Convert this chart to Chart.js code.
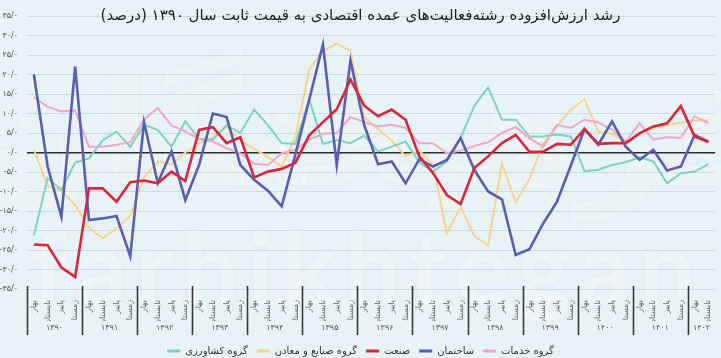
<!DOCTYPE html>
<html>
<head>
<meta charset="utf-8">
<script src="https://cdn.jsdelivr.net/npm/chart.js@4.4.1/dist/chart.umd.min.js"></script>
<style>
html,body{margin:0;padding:0;background:#e8f3f8;}
#wrap{position:relative;width:721px;height:358px;}
canvas{display:block;}
</style>
</head>
<body>
<div id="wrap"><canvas id="c" width="721" height="358"></canvas></div>
<script>
// ---- data ----
const seasonNames = ['بهار', 'تابستان', 'پاییز', 'زمستان'];
const years = ['۱۳۹۰','۱۳۹۱','۱۳۹۲','۱۳۹۳','۱۳۹۴','۱۳۹۵','۱۳۹۶','۱۳۹۷','۱۳۹۸','۱۳۹۹','۱۴۰۰','۱۴۰۱','۱۴۰۲'];
const quartersPerYear = [4,4,4,4,4,4,4,4,4,4,4,4,2];

const seriesNames = ['گروه کشاورزی', 'گروه صنایع و معادن', 'صنعت', 'ساختمان', 'گروه خدمات'];

const agriculture = [-21.2,-6.6,-9.6,-2.6,-1.5,3.1,5.4,1.4,7.1,5.8,1.5,8.0,3.5,3.3,7.0,5.0,11.0,7.0,2.4,2.2,13.6,2.2,3.2,2.4,4.3,0.3,1.5,2.8,-2.5,-4.9,-2.3,3.7,12.0,16.7,8.4,8.4,4.1,4.1,4.6,4.1,-4.8,-4.4,-3.2,-2.5,-1.2,-2.3,-7.9,-5.3,-4.9,-3.0];
const industryMining = [0.7,-8.6,-9.8,-13.5,-19.3,-22.0,-19.5,-16.2,-6.4,-2.3,-3.0,0.0,2.2,3.9,6.7,3.0,1.0,-1.2,-3.6,4.0,21.3,26.0,27.9,26.0,9.0,6.0,3.0,-1.0,0.5,-3.2,-20.8,-13.9,-21.4,-23.8,-2.8,-12.8,-6.8,2.2,6.7,11.0,13.7,5.3,4.8,2.6,5.0,6.2,7.0,7.7,8.2,8.2];
const industry = [-23.6,-23.8,-29.5,-31.9,-9.2,-9.2,-12.6,-7.6,-7.2,-7.9,-4.9,-7.3,5.8,6.5,2.4,3.9,-6.4,-4.9,-4.2,-2.6,4.4,7.8,11.1,18.7,12.0,9.3,11.0,8.4,-1.0,-5.3,-10.9,-13.2,-4.0,-1.0,2.4,4.5,0.2,0.2,2.2,2.0,6.0,2.2,2.4,2.4,4.9,6.7,7.5,11.9,4.1,2.7];
const construction = [20.0,-3.6,-16.5,22.0,-17.3,-16.9,-16.3,-26.6,7.8,-7.8,0.3,-12.2,-3.2,10.0,9.1,-3.2,-7.0,-9.8,-13.8,-0.5,13.5,27.7,-3.2,23.6,7.0,-3.0,-2.3,-7.9,-1.7,-3.6,-1.9,3.7,-4.5,-10.0,-12.0,-26.3,-24.8,-18.2,-12.6,-3.4,6.0,2.0,8.0,1.5,-1.9,0.7,-4.6,-3.6,4.5,2.8];
const services = [14.2,11.7,10.5,10.8,1.5,1.5,2.0,2.6,8.4,11.4,6.9,5.4,3.4,2.8,1.1,-0.2,-2.9,-3.2,-0.2,0.7,3.3,4.8,5.0,9.1,7.8,6.7,7.1,6.3,2.4,2.4,-0.2,0.5,1.7,2.6,5.0,6.5,3.7,1.5,7.1,6.3,8.4,7.7,5.8,2.8,7.5,3.3,3.9,3.7,9.3,7.5];

const yMin = -35, yMax = 35, yStep = 5;
const titleText = 'رشد ارزش‌افزوده رشته‌فعالیت‌های عمده اقتصادی به قیمت ثابت سال ۱۳۹۰ (درصد)';

// ---- derived ----
const categories = [];
const yearCenters = [];
const yearStarts = [];
quartersPerYear.forEach((n, k) => {
  yearStarts.push(categories.length);
  yearCenters.push(categories.length + (n - 1) / 2);
  for (let q = 0; q < n; q++) categories.push(seasonNames[q]);
});

const toFa = s => String(s).replace(/\d/g, d => '۰۱۲۳۴۵۶۷۸۹'[+d]);
const FONT = '"DejaVu Sans", sans-serif';

const colors = ['#7fd2bf', '#f7d48c', '#d8263b', '#5a5eae', '#f1a6cb'];
const widths = [2, 2, 2.6, 2.6, 2];
const orders = [3, 4, 0, 1, 2];
const values = [agriculture, industryMining, industry, construction, services];

const bgPlugin = {
  id: 'bg',
  beforeDraw(chart) {
    const ctx = chart.ctx;
    ctx.save();
    ctx.fillStyle = '#e8f3f8';
    ctx.fillRect(0, 0, chart.width, chart.height);
    // faint watermark
    ctx.fillStyle = 'rgba(255,255,255,0.42)';
    ctx.shadowColor = 'rgba(120,140,150,0.12)';
    ctx.shadowBlur = 6;
    ctx.textAlign = 'center';
    ctx.textBaseline = 'alphabetic';
    ctx.font = 'bold 100px Lato, sans-serif';
    try { ctx.letterSpacing = '9px'; } catch (e) {}
    ctx.fillText('farhikhtegan', 368, 304);
    try { ctx.letterSpacing = '0px'; } catch (e) {}
    ctx.fillStyle = 'rgba(255,255,255,0.32)';
    ctx.font = 'bold 150px "DejaVu Sans", sans-serif';
    ctx.fillText('\u200Fفرهیختگان\u200F', 370, 185);
    ctx.restore();
  }
};

const sepPlugin = {
  id: 'yearSeparators',
  afterDraw(chart) {
    const ctx = chart.ctx;
    const sx = chart.scales.x2;
    const top = chart.chartArea.bottom - 3;
    const bottom = sx.bottom - 2;
    ctx.save();
    ctx.strokeStyle = '#3a3a3a';
    ctx.lineWidth = 1.6;
    yearStarts.forEach(s => {
      const px = Math.round(sx.getPixelForValue(s - 0.5)) + 0.5;
      ctx.beginPath();
      ctx.moveTo(px, top);
      ctx.lineTo(px, bottom);
      ctx.stroke();
    });
    ctx.restore();
  }
};

new Chart(document.getElementById('c'), {
  type: 'line',
  data: {
    labels: categories,
    datasets: seriesNames.map((name, i) => ({
      label: name,
      data: values[i],
      borderColor: colors[i],
      backgroundColor: colors[i],
      borderWidth: widths[i],
      pointRadius: 0,
      pointHoverRadius: 0,
      tension: 0,
      fill: false,
      order: orders[i]
    }))
  },
  options: {
    responsive: false,
    animation: false,
    devicePixelRatio: 1,
    layout: { padding: { top: 0, left: 0, right: 0, bottom: -8 } },
    plugins: {
      tooltip: { enabled: false },
      title: {
        display: true,
        text: '\u200F' + titleText + '\u200F',
        color: '#222',
        font: { family: FONT, size: 15, weight: 'normal' },
        padding: { top: 7, bottom: -9 }
      },
      legend: {
        position: 'bottom',
        labels: {
          boxWidth: 13,
          boxHeight: 3,
          padding: 9,
          color: '#333',
          font: { family: FONT, size: 10 },
          sort: (a, b) => a.datasetIndex - b.datasetIndex,
          generateLabels: chart => Chart.defaults.plugins.legend.labels.generateLabels(chart).map(l => Object.assign(l, { lineWidth: 0 }))
        }
      }
    },
    scales: {
      x: {
        type: 'category',
        weight: 1,
        offset: true,
        grid: { display: false },
        border: { display: false },
        ticks: {
          autoSkip: false,
          minRotation: 90,
          maxRotation: 90,
          padding: 3,
          color: '#666',
          font: { family: FONT, size: 8 }
        },
        afterFit: s => { s.height = 32; }
      },
      x2: {
        type: 'linear',
        position: 'bottom',
        weight: 2,
        min: -0.5,
        max: categories.length - 0.5,
        grid: { display: false, drawTicks: false },
        border: { display: false },
        afterBuildTicks: s => { s.ticks = yearCenters.map(v => ({ value: v })); },
        ticks: {
          autoSkip: false,
          maxRotation: 0,
          padding: 2,
          color: '#555',
          font: { family: FONT, size: 8 },
          callback: (v, i) => years[i]
        },
        afterFit: s => { s.height = 16; }
      },
      y: {
        min: yMin,
        max: yMax,
        border: { display: false },
        grid: {
          drawTicks: false,
          color: c => c.tick && c.tick.value === 0 ? '#2d2d2d' : 'rgba(150,175,188,0.35)',
          lineWidth: c => c.tick && c.tick.value === 0 ? 1.6 : 1
        },
        ticks: {
          stepSize: yStep,
          padding: 9,
          color: '#555',
          font: { family: FONT, size: 8 },
          callback: v => (v < 0 ? '-' : '') + toFa(Math.abs(v)) + '/۰'
        },
        afterFit: s => { s.width = 27; }
      }
    }
  },
  plugins: [bgPlugin, sepPlugin]
});
</script>
</body>
</html>
